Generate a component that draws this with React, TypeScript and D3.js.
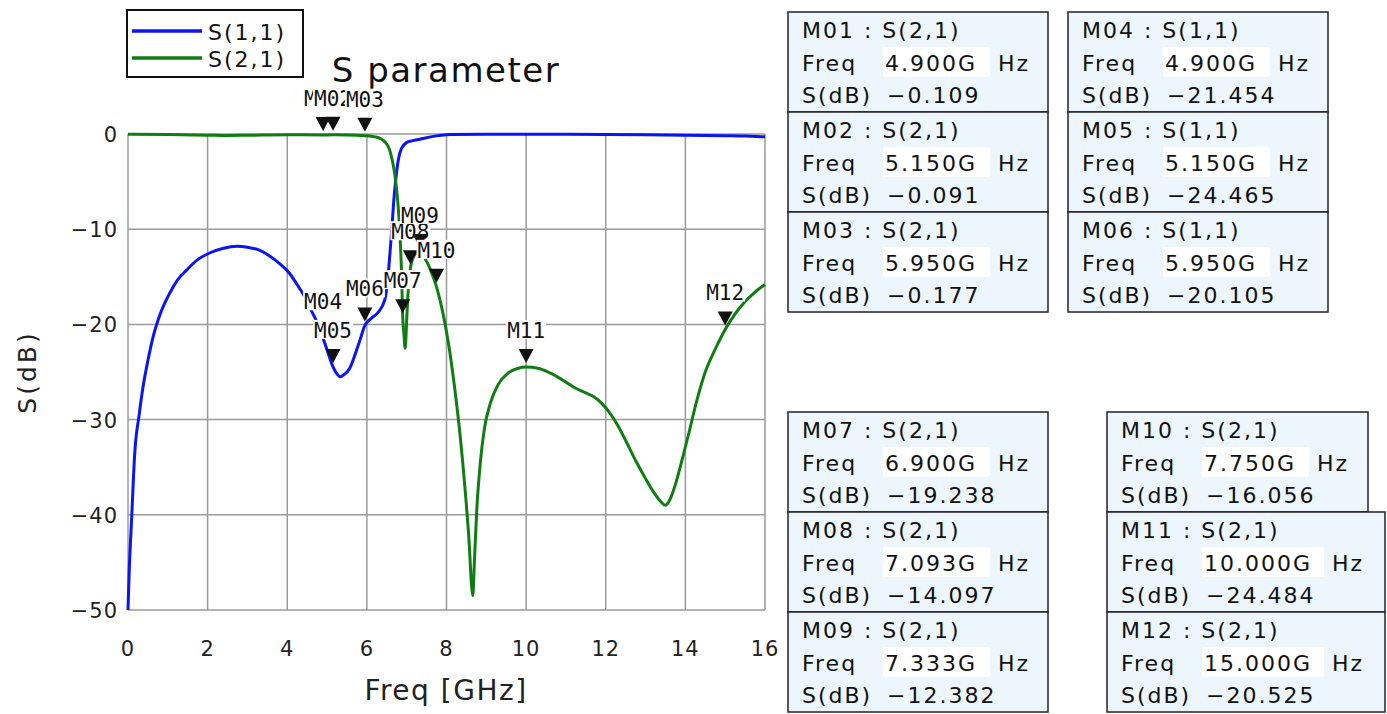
import React from 'react';
import * as d3 from 'd3';

// S(1,1) trace
const s11Freq = [0, 0.03, 0.09, 0.17, 0.28, 0.38, 0.5, 0.63, 0.8, 1.05, 1.25, 1.47, 1.75, 2.05, 2.4, 2.73, 3.0, 3.3, 3.55, 3.8, 4.05, 4.23, 4.45, 4.6, 4.75, 4.9, 5.05, 5.15, 5.25, 5.33, 5.42, 5.57, 5.7, 5.83, 5.95, 6.1, 6.29, 6.45, 6.52, 6.58, 6.63, 6.67, 6.72, 6.79, 6.87, 7.0, 7.15, 7.33, 7.6, 8.1, 9, 10, 11, 12, 13, 14, 15, 15.5, 16];
const s11dB = [-50, -46, -40.5, -33.5, -29.5, -26.5, -23.8, -21.3, -19, -16.7, -15.3, -14.3, -13.2, -12.5, -12.0, -11.8, -11.9, -12.2, -12.8, -13.6, -14.6, -15.7, -17.2, -18.5, -19.8, -21.45, -23.3, -24.47, -25.2, -25.5, -25.3, -24.6, -23.2, -21.6, -20.1, -19.4, -18.7, -17.4, -15.5, -12.5, -9.8, -7.3, -5.0, -2.7, -1.5, -0.9, -0.7, -0.55, -0.3, -0.05, -0.02, -0.02, -0.03, -0.05, -0.08, -0.12, -0.18, -0.22, -0.3];

// S(2,1) trace
const s21Freq = [0, 1, 2, 2.5, 3, 4, 4.9, 5.15, 5.5, 5.95, 6.2, 6.35, 6.45, 6.52, 6.58, 6.64, 6.7, 6.75, 6.79, 6.83, 6.87, 6.9, 6.93, 6.96, 6.98, 7.0, 7.03, 7.06, 7.093, 7.15, 7.22, 7.333, 7.45, 7.6, 7.75, 7.9, 8.05, 8.2, 8.35, 8.47, 8.57, 8.63, 8.66, 8.7, 8.76, 8.85, 8.95, 9.1, 9.3, 9.55, 9.8, 10.0, 10.3, 10.6, 10.9, 11.2, 11.5, 11.7, 11.9, 12.1, 12.3, 12.5, 12.75, 13.0, 13.2, 13.4, 13.5, 13.6, 13.75, 13.9, 14.1, 14.3, 14.5, 14.75, 15.0, 15.25, 15.5, 15.75, 16];
const s21dB = [-0.02, -0.05, -0.12, -0.15, -0.13, -0.08, -0.109, -0.091, -0.1, -0.177, -0.3, -0.5, -0.8, -1.2, -1.8, -2.8, -4.2, -6.0, -7.8, -10.5, -14.5, -19.24, -21.0, -22.5, -21.5, -19.5, -17.0, -15.3, -14.1, -13.1, -12.6, -12.38, -13.0, -14.3, -16.06, -18.6, -22, -26.5, -32, -37.5, -43, -47.5, -48.5, -45, -39.5, -34.5, -31, -28.3, -26.3, -25.1, -24.6, -24.48, -24.6, -25.1, -25.8, -26.6, -27.2, -27.6, -28.3, -29.3, -30.6, -32.2, -34.3, -36.2, -37.6, -38.7, -39.0, -38.5, -36.8, -34.5, -31.2, -27.8, -25.0, -22.6, -20.525, -18.9, -17.6, -16.6, -15.8];

// markers
const markerNames = ['M01', 'M02', 'M03', 'M04', 'M05', 'M06', 'M07', 'M08', 'M09', 'M10', 'M11', 'M12'];
const markerTraces = ['S(2,1)', 'S(2,1)', 'S(2,1)', 'S(1,1)', 'S(1,1)', 'S(1,1)', 'S(2,1)', 'S(2,1)', 'S(2,1)', 'S(2,1)', 'S(2,1)', 'S(2,1)'];
const markerFreqs = [4.9, 5.15, 5.95, 4.9, 5.15, 5.95, 6.9, 7.093, 7.333, 7.75, 10.0, 15.0];
const markerValues = [-0.109, -0.091, -0.177, -21.454, -24.465, -20.105, -19.238, -14.097, -12.382, -16.056, -24.484, -20.525];

const xTicks = [0, 2, 4, 6, 8, 10, 12, 14, 16];
const yTicks = [0, -10, -20, -30, -40, -50];

// marker readout box placement (layout only)
const boxLayout = [
  { x: 788, y: 12, w: 260 }, { x: 788, y: 112, w: 260 }, { x: 788, y: 212, w: 260 },
  { x: 1068, y: 12, w: 260 }, { x: 1068, y: 112, w: 260 }, { x: 1068, y: 212, w: 260 },
  { x: 788, y: 412, w: 260 }, { x: 788, y: 512, w: 260 }, { x: 788, y: 612, w: 260 },
  { x: 1107, y: 412, w: 261 }, { x: 1107, y: 512, w: 278 }, { x: 1107, y: 612, w: 278 },
];

const W = 1387;
const H = 714;
const plot = { left: 128, right: 765, top: 134, bottom: 610 };
const BLUE = '#0a14f5';
const GREEN = '#0f7d12';
const GRID = '#9a9a9a';
const SANS = '"DejaVu Sans", sans-serif';

export default function App() {
  const x = d3.scaleLinear().domain([0, 16]).range([plot.left, plot.right]);
  const y = d3.scaleLinear().domain([-50, 0]).range([plot.bottom, plot.top]);

  const line = d3.line<[number, number]>()
    .x(d => x(d[0]))
    .y(d => y(d[1]))
    .curve(d3.curveMonotoneX);

  const s11Path = line(s11Freq.map((f, i) => [f, s11dB[i]]) as [number, number][]) || '';
  const s21Path = line(s21Freq.map((f, i) => [f, s21dB[i]]) as [number, number][]) || '';

  const fmt3 = d3.format('.3f');

  return (
    <svg width={W} height={H} style={{ position: 'absolute', left: 0, top: 0, background: '#fff' }}>
      {/* grid */}
      {xTicks.map(t => (
        <line key={'gx' + t} x1={x(t)} x2={x(t)} y1={plot.top} y2={plot.bottom} stroke={GRID} strokeWidth={1.5} />
      ))}
      {yTicks.map(t => (
        <line key={'gy' + t} x1={plot.left} x2={plot.right} y1={y(t)} y2={y(t)} stroke={GRID} strokeWidth={1.5} />
      ))}

      {/* tick labels */}
      {xTicks.map(t => (
        <text key={'tx' + t} x={x(t)} y={656} textAnchor="middle" fontFamily={SANS} fontSize={21} letterSpacing={1} fill="#222">
          {t}
        </text>
      ))}
      {yTicks.map(t => (
        <text key={'ty' + t} x={118} y={y(t) + 8} textAnchor="end" fontFamily={SANS} fontSize={21} letterSpacing={1} fill="#222">
          {t === 0 ? '0' : '\u2212' + Math.abs(t)}
        </text>
      ))}

      {/* axis titles */}
      <text x={446} y={700} textAnchor="middle" fontFamily={SANS} fontSize={28} letterSpacing={1.5} fill="#222">
        Freq [GHz]
      </text>
      <text transform={`translate(36,${(plot.top + plot.bottom) / 2}) rotate(-90)`} textAnchor="middle" fontFamily={SANS} fontSize={25} letterSpacing={3} fill="#222">
        S(dB)
      </text>

      {/* title */}
      <text x={446} y={82} textAnchor="middle" fontFamily={SANS} fontSize={34} letterSpacing={1.5} fill="#111">
        S parameter
      </text>

      {/* traces */}
      <path d={s11Path} fill="none" stroke={BLUE} strokeWidth={3} strokeLinejoin="round" />
      <path d={s21Path} fill="none" stroke={GREEN} strokeWidth={3} strokeLinejoin="round" />

      {/* markers on the plot */}
      {markerNames.map((name, i) => {
        const px = x(markerFreqs[i]);
        const py = y(markerValues[i]);
        const tip = py - 4;
        return (
          <g key={'m' + name}>
            <rect x={px - 20} y={py - 47} width={40} height={19} fill="#fff" />
            <text x={px} y={py - 29} textAnchor="middle" fontFamily='"DejaVu Sans Mono", monospace' fontSize={21} textLength={38} lengthAdjust="spacingAndGlyphs" fill="#111">
              {name}
            </text>
            <path d={`M${px - 7.5},${tip - 14}L${px + 7.5},${tip - 14}L${px},${tip}Z`} fill="#111" />
          </g>
        );
      })}

      {/* legend */}
      <rect x={127} y={10} width={176} height={67} fill="#fff" stroke="#111" strokeWidth={2} />
      <line x1={132} x2={202} y1={31} y2={31} stroke={BLUE} strokeWidth={3.5} />
      <line x1={132} x2={202} y1={58} y2={58} stroke={GREEN} strokeWidth={3.5} />
      <text x={208} y={40} fontFamily={SANS} fontSize={22} letterSpacing={2} fill="#111">S(1,1)</text>
      <text x={208} y={67} fontFamily={SANS} fontSize={22} letterSpacing={2} fill="#111">S(2,1)</text>

      {/* marker readout boxes */}
      {markerNames.map((name, i) => {
        const b = boxLayout[i];
        const freqText = fmt3(markerFreqs[i]) + 'G';
        const bgW = freqText.length > 6 ? 122 : 107;
        return (
          <g key={'b' + name} fontFamily={SANS} fontSize={22} letterSpacing={2} fill="#111">
            <rect x={b.x} y={b.y} width={b.w} height={100} fill="#edf5fd" stroke="#222" strokeWidth={1.5} />
            <text x={b.x + 14} y={b.y + 26}>{`${name} : ${markerTraces[i]}`}</text>
            <rect x={b.x + 95} y={b.y + 35} width={bgW} height={30} fill="#fff" />
            <text x={b.x + 14} y={b.y + 59}>Freq</text>
            <text x={b.x + 97} y={b.y + 59}>{freqText}</text>
            <text x={b.x + 95 + bgW + 8} y={b.y + 59}>Hz</text>
            <text x={b.x + 14} y={b.y + 91}>S(dB)</text>
            <text x={b.x + 99} y={b.y + 91}>{fmt3(markerValues[i])}</text>
          </g>
        );
      })}
    </svg>
  );
}
